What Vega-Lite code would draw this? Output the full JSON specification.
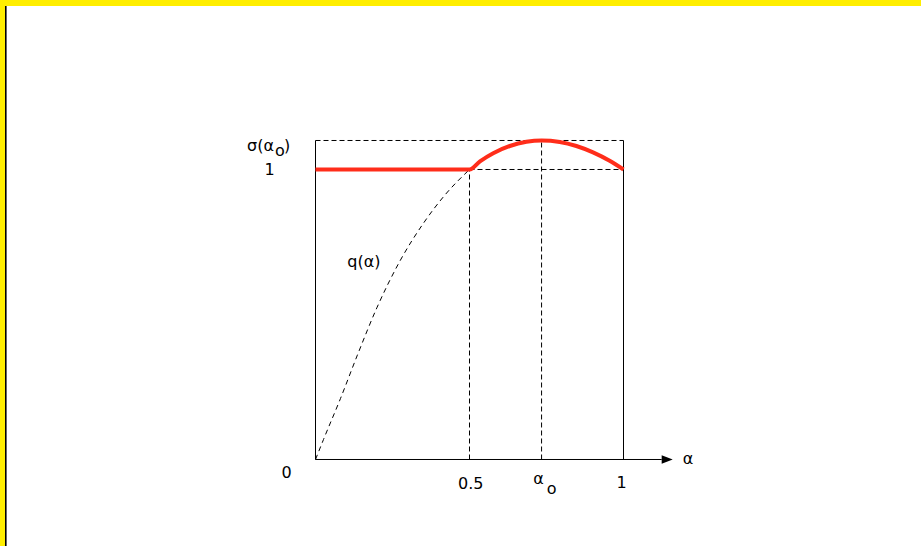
{
  "$schema": "https://vega.github.io/schema/vega-lite/v6.json",
  "width": 916,
  "height": 540,
  "autosize": {"type": "none"},
  "padding": {"left": 5, "top": 6, "right": 0, "bottom": 0},
  "background": "#ffee00",
  "config": {
    "view": {"fill": "white", "stroke": null},
    "axis": {"disable": true}
  },
  "datasets": {
    "edge": [{"a": -1.0055, "v": -0.298276, "v2": 1.563793}],
    "frame": [
      {"a": 0, "a2": 1.124, "v": 0, "v2": 0},
      {"a": 0, "a2": 0, "v": 0, "v2": 1.1},
      {"a": 1, "a2": 1, "v": 0, "v2": 1.1}
    ],
    "guides": [
      {"a": 0, "a2": 1, "v": 1.1, "v2": 1.1},
      {"a": 0.5, "a2": 1, "v": 1, "v2": 1},
      {"a": 0.5, "a2": 0.5, "v": 0, "v2": 1},
      {"a": 0.734, "a2": 0.734, "v": 0, "v2": 1.1}
    ],
    "arrowHead": [{"a": 1.1419, "v": 0}],
    "q": [
      {"a": 0, "v": 0},
      {"a": 0.026, "v": 0.069},
      {"a": 0.081, "v": 0.21},
      {"a": 0.136, "v": 0.36},
      {"a": 0.2, "v": 0.525},
      {"a": 0.275, "v": 0.686},
      {"a": 0.35, "v": 0.814},
      {"a": 0.421, "v": 0.913},
      {"a": 0.5, "v": 1}
    ],
    "sigma": [
      {"a": 0, "v": 1},
      {"a": 0.5, "v": 1},
      {"a": 0.534, "v": 1.028},
      {"a": 0.577, "v": 1.056},
      {"a": 0.631, "v": 1.081},
      {"a": 0.685, "v": 1.0955},
      {"a": 0.734, "v": 1.1},
      {"a": 0.793, "v": 1.095},
      {"a": 0.847, "v": 1.081},
      {"a": 0.901, "v": 1.059},
      {"a": 0.955, "v": 1.03},
      {"a": 1, "v": 1}
    ],
    "tickText": [
      {"a": -0.1487, "v": 0.9821, "label": "1"},
      {"a": -0.0942, "v": -0.0628, "label": "0"},
      {"a": 0.5042, "v": -0.1007, "label": "0.5"},
      {"a": 0.9935, "v": -0.0983, "label": "1"}
    ],
    "symbolText": [
      {"a": -0.2224, "v": 1.0655, "label": "σ(α"},
      {"a": -0.1315, "v": 1.0466, "label": "o"},
      {"a": -0.1023, "v": 1.0655, "label": ")"},
      {"a": 0.7071, "v": -0.0845, "label": "α"},
      {"a": 0.7506, "v": -0.1179, "label": "o"},
      {"a": 1.1922, "v": -0.0155, "label": "α"},
      {"a": 0.1032, "v": 0.6638, "label": "q(α)"}
    ]
  },
  "encoding": {
    "x": {"field": "a", "type": "quantitative", "scale": {"domain": [-1.008117, 1.965909], "nice": false, "zero": false}},
    "y": {"field": "v", "type": "quantitative", "scale": {"domain": [-0.298276, 1.563793], "nice": false, "zero": false}}
  },
  "layer": [
    {
      "data": {"name": "edge"},
      "mark": {"type": "rule", "color": "#000", "strokeWidth": 1.6},
      "encoding": {"y2": {"field": "v2"}}
    },
    {
      "data": {"name": "guides"},
      "mark": {"type": "rule", "color": "#000", "strokeWidth": 1, "strokeDash": [5, 3]},
      "encoding": {"x2": {"field": "a2"}, "y2": {"field": "v2"}}
    },
    {
      "data": {"name": "q"},
      "mark": {"type": "line", "color": "#000", "strokeWidth": 1, "strokeDash": [5, 4], "interpolate": "monotone"},
      "encoding": {}
    },
    {
      "data": {"name": "frame"},
      "mark": {"type": "rule", "color": "#000", "strokeWidth": 1},
      "encoding": {"x2": {"field": "a2"}, "y2": {"field": "v2"}}
    },
    {
      "data": {"name": "arrowHead"},
      "mark": {"type": "point", "shape": "M-1,-0.78L1,0L-1,0.78Z", "size": 121, "filled": true, "color": "#000", "opacity": 1}
    },
    {
      "data": {"name": "sigma"},
      "mark": {"type": "line", "color": "#ff2d1a", "strokeWidth": 4, "interpolate": "monotone", "strokeCap": "butt"},
      "encoding": {}
    },
    {
      "data": {"name": "tickText"},
      "mark": {"type": "text", "align": "center", "baseline": "alphabetic", "font": "DejaVu Sans", "fontSize": 16, "color": "#000"},
      "encoding": {"text": {"field": "label"}}
    },
    {
      "data": {"name": "symbolText"},
      "mark": {"type": "text", "align": "left", "baseline": "alphabetic", "font": "DejaVu Sans", "fontSize": 16, "color": "#000"},
      "encoding": {"text": {"field": "label"}}
    }
  ]
}
